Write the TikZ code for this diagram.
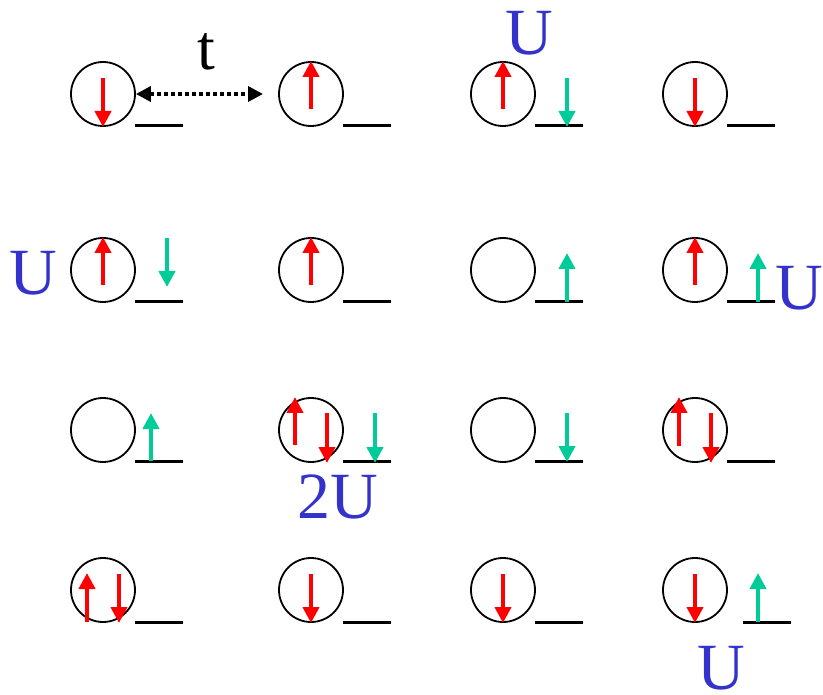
\documentclass[tikz,border=0pt]{standalone}
\usepackage{fontspec}
\setmainfont{Liberation Serif}
\usetikzlibrary{arrows.meta}
\definecolor{spinred}{RGB}{255,0,0}
\definecolor{spingreen}{RGB}{0,204,153}
\definecolor{ublue}{RGB}{51,51,204}
\tikzset{
  site/.style={circle,draw=black,line width=1.8pt,minimum size=64pt,inner sep=0pt},
  level/.style={draw=black,line width=3pt},
  redspin/.style={draw=spinred,line width=4pt,-{Triangle[length=16pt,width=16pt]},shorten >=-1pt},
  greenspin/.style={draw=spingreen,line width=4pt,-{Triangle[length=16pt,width=16pt]},shorten >=-1pt},
  ulabel/.style={text=ublue,font=\fontsize{66}{66}\selectfont,inner sep=0pt},
}
\begin{document}
\begin{tikzpicture}[x=1pt,y=-1pt]
\useasboundingbox (0,0) rectangle (823,695);
% ---- sites ----
\foreach \r/\yy in {1/94,2/270,3/430,4/590}{
  \node[site] (c\r1) at (103,\yy) {};
  \node[site] (c\r2) at (311,\yy) {};
  \node[site] (c\r3) at (503,\yy) {};
  \node[site] (c\r4) at (695,\yy) {};
}
% ---- levels ----
\foreach \yy in {126,302,461}{
  \draw[level] (135,\yy) -- (183,\yy);
  \draw[level] (343,\yy) -- (391,\yy);
  \draw[level] (535,\yy) -- (583,\yy);
  \draw[level] (727,\yy) -- (775,\yy);
}
\draw[level] (135,622) -- (183,622);
\draw[level] (343,622) -- (391,622);
\draw[level] (535,622) -- (583,622);
\draw[level] (743,622) -- (791,622);
% ---- row 1 ----
\draw[redspin] (103,78) -- (103,126);
\draw[redspin] (311,109) -- (311,62);
\draw[redspin] (503,109) -- (503,62);
\draw[greenspin] (567,78) -- (567,126);
\draw[redspin] (695,78) -- (695,126);
% hopping t
\coordinate (tend) at (263,94);
\draw[line width=3.5pt,dash pattern=on 3.5pt off 3.5pt,{Triangle[length=15pt,width=15pt]}-{Triangle[length=15pt,width=15pt]}] (c11.east) -- (tend);
\node[inner sep=0pt,font=\fontsize{64}{64}\selectfont] (t) at (206,52) {t};
\node[ulabel] (u1) at (529,33) {U};
% ---- row 2 ----
\draw[redspin] (103,285) -- (103,238);
\draw[greenspin] (167,238) -- (167,286);
\draw[redspin] (311,285) -- (311,238);
\draw[greenspin] (567,302) -- (567,254);
\draw[redspin] (695,285) -- (695,238);
\draw[greenspin] (758,302) -- (758,254);
\node[ulabel] (u2) at (33,273) {U};
\node[ulabel] (u3) at (799,288) {U};
% ---- row 3 ----
\draw[greenspin] (151,461) -- (151,414);
\draw[redspin] (295,445) -- (295,398);
\draw[redspin] (327,413) -- (327,462);
\draw[greenspin] (375,413) -- (375,462);
\draw[greenspin] (567,413) -- (567,461);
\draw[redspin] (679,446) -- (679,398);
\draw[redspin] (711,413) -- (711,462);
\node[ulabel] (u4) at (338,497) {2U};
% ---- row 4 ----
\draw[redspin] (87,622) -- (87,574);
\draw[redspin] (119,574) -- (119,622);
\draw[redspin] (311,574) -- (311,622);
\draw[redspin] (503,574) -- (503,622);
\draw[redspin] (695,574) -- (695,622);
\draw[greenspin] (758,622) -- (758,574);
\node[ulabel] (u5) at (721,668) {U};
\end{tikzpicture}
\end{document}
